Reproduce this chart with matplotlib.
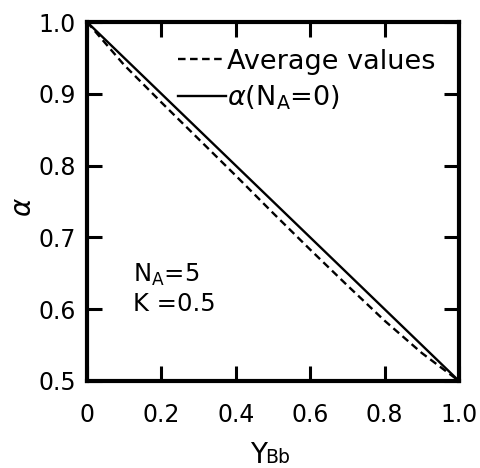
import matplotlib
matplotlib.use("Agg")
import matplotlib.pyplot as plt

plt.rcParams['font.family'] = ['DejaVu Sans']
plt.rcParams['mathtext.fontset'] = 'dejavusans'

# Data
y_bb = [0.0, 0.1, 0.2, 0.3, 0.4, 0.5, 0.6, 0.7, 0.8, 0.9, 1.0]
alpha_na0 = [1.0, 0.95, 0.90, 0.85, 0.80, 0.75, 0.70, 0.65, 0.60, 0.55, 0.50]
alpha_avg = [1.0, 0.940, 0.888, 0.837, 0.786, 0.734, 0.683, 0.633, 0.584, 0.539, 0.50]

x_ticks = [0, 0.2, 0.4, 0.6, 0.8, 1.0]
x_ticklabels = ['0', '0.2', '0.4', '0.6', '0.8', '1.0']
y_ticks = [0.5, 0.6, 0.7, 0.8, 0.9, 1.0]
y_ticklabels = ['0.5', '0.6', '0.7', '0.8', '0.9', '1.0']

fig = plt.figure(figsize=(4.8, 4.68), dpi=100)
ax = fig.add_axes([87/480, 1 - 381/468, 372/480, 359/468])

ax.plot(y_bb, alpha_avg, color='black', lw=1.7, ls=(0, (3.2, 1.9)),
        label='Average values', clip_on=False)
ax.plot(y_bb, alpha_na0, color='black', lw=1.7,
        label=r'$\alpha$(N$_{\mathregular{A}}$=0)', clip_on=False)

ax.set_xlim(0, 1.0)
ax.set_ylim(0.5, 1.0)
ax.set_xticks(x_ticks)
ax.set_xticklabels(x_ticklabels)
ax.set_yticks(y_ticks)
ax.set_yticklabels(y_ticklabels)

for s in ax.spines.values():
    s.set_linewidth(3)
ax.tick_params(direction='in', length=11, width=2.2, top=True, right=True,
               labelsize=17)
ax.tick_params(axis='x', pad=16)
ax.tick_params(axis='y', pad=8)

ax.set_ylabel(r'$\alpha$', fontsize=20, rotation=90)
ax.yaxis.set_label_coords(-0.135, 0.485)

# x-axis label: large "Y" followed by smaller "Bb" on the same baseline
ax.text(0.483, -0.228, 'Y', transform=ax.transAxes, fontsize=20,
        ha='right', va='baseline')
ax.text(0.479, -0.228, 'Bb', transform=ax.transAxes, fontsize=13.5,
        ha='left', va='baseline')

leg = ax.legend(loc='upper left', bbox_to_anchor=(0.245, 0.925), frameon=False,
                fontsize=19.5, handlelength=1.75, handletextpad=0.05,
                labelspacing=0.3, borderpad=0, borderaxespad=0)

ax.text(0.124, 0.276, r'N$_{\mathregular{A}}$=5', transform=ax.transAxes,
        fontsize=17.5, va='baseline', ha='left')
ax.text(0.124, 0.195, 'K =0.5', transform=ax.transAxes,
        fontsize=17.5, va='baseline', ha='left')

fig.savefig('out.png', dpi=100)
